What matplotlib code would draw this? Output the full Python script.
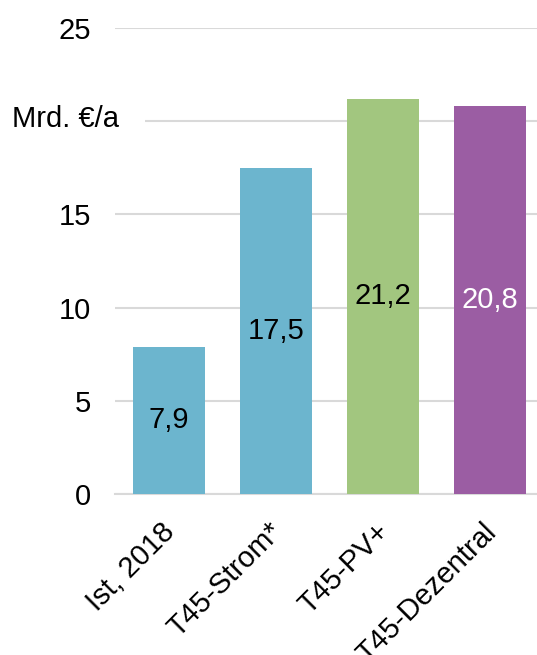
import matplotlib
matplotlib.use("Agg")
import matplotlib.pyplot as plt
from matplotlib.patches import Rectangle
from matplotlib.transforms import ScaledTranslation

categories = ["Ist, 2018", "T45-Strom*", "T45-PV+", "T45-Dezentral"]
values = [7.9, 17.5, 21.2, 20.8]
value_labels = ["7,9", "17,5", "21,2", "20,8"]
colors = ["#6CB5CE", "#6CB5CE", "#A2C67F", "#9B5DA3"]
label_colors = ["black", "black", "black", "white"]
yticks = [0, 5, 10, 15, 20, 25]
ytick_labels = ["0", "5", "10", "15", "", "25"]
unit = "Mrd. €/a"

plt.rcParams["font.family"] = ["Liberation Sans", "DejaVu Sans"]
fs = 21

fig = plt.figure(figsize=(5.37, 6.55), dpi=100)
ax = fig.add_axes([115/537, 161/655, 422/537, 466/655])

x = list(range(len(categories)))
bars = ax.bar(x, values, width=0.67, color=colors, zorder=3)
for xi, v, lab, c in zip(x, values, value_labels, label_colors):
    ax.text(xi, v/2, lab, ha="center", va="center", fontsize=fs, color=c, zorder=4)

ax.set_xlim(-0.505, 3.44)
ax.set_ylim(0, 25)
ax.set_yticks(yticks)
ax.set_yticklabels(ytick_labels, fontsize=fs)
ax.yaxis.grid(True, color="#D9D9D9", linewidth=1.5, zorder=0)
ax.tick_params(axis="y", length=0, pad=17)
ax.tick_params(axis="x", length=0, pad=17)
ax.set_xticks(x)
ax.set_xticklabels(categories, fontsize=fs, rotation=45, ha="right", rotation_mode="anchor")
off = ScaledTranslation(-8/100, 0, fig.dpi_scale_trans)
for lbl in ax.get_xticklabels():
    lbl.set_transform(lbl.get_transform() + off)
for s in ["top", "right", "left"]:
    ax.spines[s].set_visible(False)
ax.spines["bottom"].set_color("#D9D9D9")
ax.spines["bottom"].set_linewidth(1.5)

# white block hiding the start of the 20-gridline behind the unit label
fig.patches.append(Rectangle((114/537, 1 - 130/655), 31/537, 18/655,
                             transform=fig.transFigure, facecolor="white",
                             edgecolor="none", zorder=5))
fig.text(12/537, 1 - 119/655, unit, fontsize=fs, ha="left", va="center", zorder=6)

fig.savefig("out.png", dpi=100)
